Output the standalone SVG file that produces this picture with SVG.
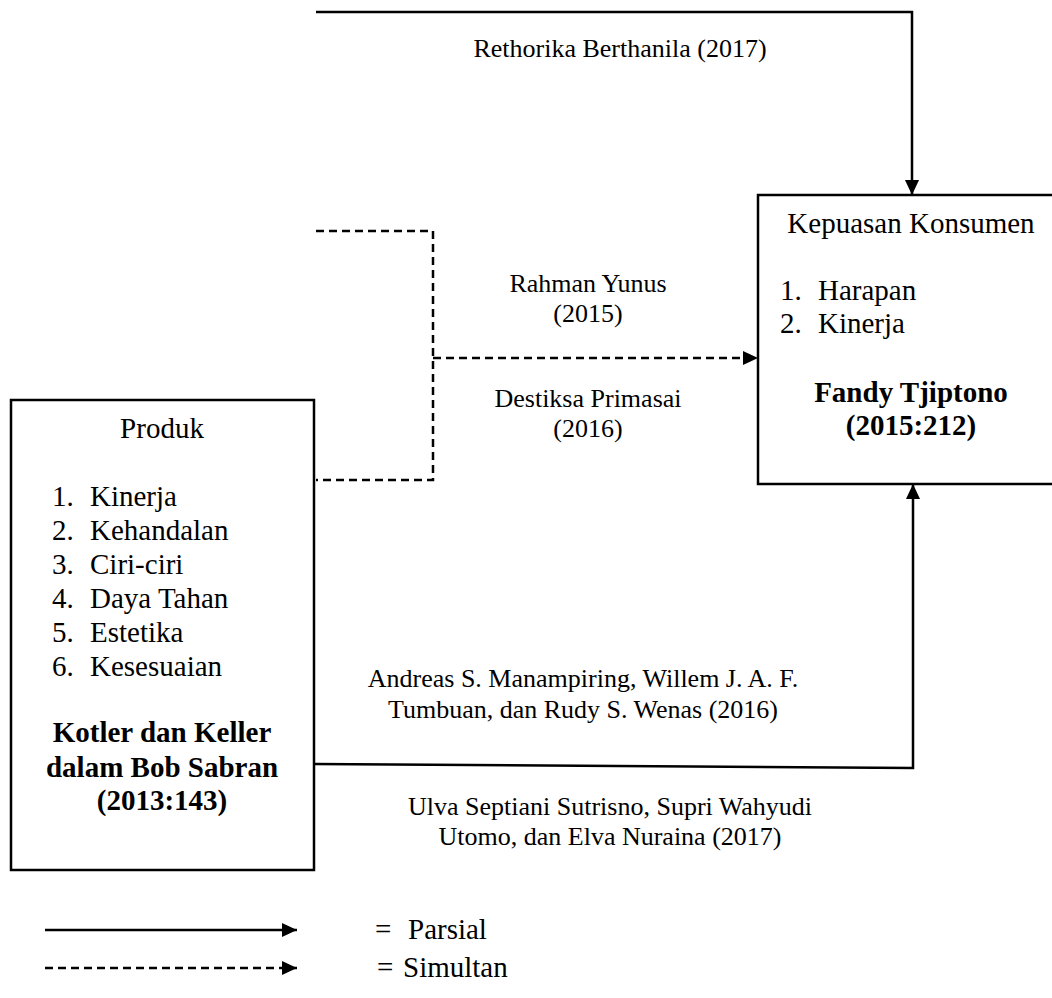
<svg xmlns="http://www.w3.org/2000/svg" width="1052" height="998" viewBox="0 0 1052 998">
<style>
.box{fill:#fff;stroke:#000;stroke-width:2.5}
.t{font-family:"Liberation Serif","Times New Roman",serif;font-size:29px;fill:#000}
.l{font-family:"Liberation Serif","Times New Roman",serif;font-size:26px;fill:#000}
.b{font-weight:bold}
.c{text-anchor:middle}
.solid{fill:none;stroke:#000;stroke-width:2.5}
.dash{fill:none;stroke:#000;stroke-width:2.5;stroke-dasharray:8 5}
</style>
<defs>
<marker id="ah" markerUnits="userSpaceOnUse" markerWidth="16" markerHeight="16" viewBox="0 0 16 16" refX="15" refY="8" orient="auto">
<path d="M0,1 L15,8 L0,15 Z" fill="#000"/>
</marker>
</defs>
<rect width="1052" height="998" fill="#fff"/>
<g id="connectors">
<path class="solid" d="M316,12 H912 V195" marker-end="url(#ah)"/>
<path class="dash" d="M316,231 H433 V480 H316"/>
<path class="dash" d="M433,358 H758" marker-end="url(#ah)"/>
<path class="solid" d="M314,764 L913,768 V484" marker-end="url(#ah)"/>
</g>
<g id="produk">
<rect class="box" x="11" y="400" width="303" height="470"/>
<text class="t c" x="162" y="438">Produk</text>
<text class="t" x="52" y="506">1.</text><text class="t" x="90" y="506">Kinerja</text>
<text class="t" x="52" y="540">2.</text><text class="t" x="90" y="540">Kehandalan</text>
<text class="t" x="52" y="574">3.</text><text class="t" x="90" y="574">Ciri-ciri</text>
<text class="t" x="52" y="608">4.</text><text class="t" x="90" y="608">Daya Tahan</text>
<text class="t" x="52" y="642">5.</text><text class="t" x="90" y="642">Estetika</text>
<text class="t" x="52" y="676">6.</text><text class="t" x="90" y="676">Kesesuaian</text>
<text class="t b c" x="162" y="742">Kotler dan Keller</text>
<text class="t b c" x="162" y="777">dalam Bob Sabran</text>
<text class="t b c" x="162" y="810">(2013:143)</text>
</g>
<g id="kepuasan">
<rect class="box" x="758" y="195" width="310" height="289"/>
<text class="t c" x="911" y="233">Kepuasan Konsumen</text>
<text class="t" x="780" y="300">1.</text><text class="t" x="818" y="300">Harapan</text>
<text class="t" x="780" y="333">2.</text><text class="t" x="818" y="333">Kinerja</text>
<text class="t b c" x="911" y="402">Fandy Tjiptono</text>
<text class="t b c" x="911" y="435">(2015:212)</text>
</g>
<g id="labels">
<text class="l c" x="620" y="57">Rethorika Berthanila (2017)</text>
<text class="l c" x="588" y="292">Rahman Yunus</text>
<text class="l c" x="588" y="322">(2015)</text>
<text class="l c" x="588" y="407">Destiksa Primasai</text>
<text class="l c" x="588" y="437">(2016)</text>
<text class="l c" x="583" y="687">Andreas S. Manampiring, Willem J. A. F.</text>
<text class="l c" x="583" y="718">Tumbuan, dan Rudy S. Wenas (2016)</text>
<text class="l c" x="610" y="815">Ulva Septiani Sutrisno, Supri Wahyudi</text>
<text class="l c" x="610" y="845">Utomo, dan Elva Nuraina (2017)</text>
</g>
<g id="legend">
<path class="solid" d="M45,930 H297" marker-end="url(#ah)"/>
<path class="dash" d="M45,968 H297" marker-end="url(#ah)"/>
<text class="t" x="375" y="939">=</text><text class="t" x="408" y="939">Parsial</text>
<text class="t" x="377" y="977">=</text><text class="t" x="403" y="977">Simultan</text>
</g>
</svg>
